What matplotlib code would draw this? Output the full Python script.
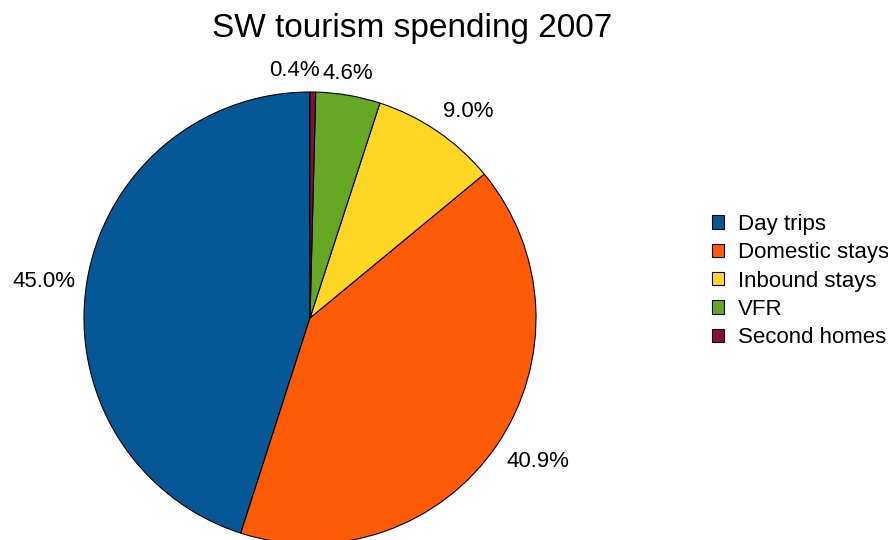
import numpy as np
import matplotlib
matplotlib.use('Agg')
import matplotlib.pyplot as plt

plt.rcParams['font.family'] = ['Liberation Sans', 'DejaVu Sans']

# spending shares
categories = ['Day trips', 'Domestic stays', 'Inbound stays', 'VFR', 'Second homes']
shares = [45.0, 40.9, 9.0, 4.6, 0.4]
colors = ['#065796', '#ff5a08', '#ffd624', '#66a823', '#84142c']

fig = plt.figure(figsize=(8.88, 5.40), dpi=100)
# axes in pixel units so the pie sits where it does in the original
ax = fig.add_axes([0, 0, 1, 1])

cx, cy, rad = 310, 222, 226
wedges, texts, autotexts = ax.pie(
    shares, colors=colors, startangle=90, counterclock=True,
    center=(cx, cy), radius=rad, frame=True,
    autopct='%.1f%%', pctdistance=1.05,
    wedgeprops=dict(edgecolor='black', linewidth=0.8),
    textprops=dict(fontsize=16))
ax.set_xlim(0, 888)
ax.set_ylim(0, 540)
ax.set_aspect('equal')
ax.axis('off')

# place labels just outside the rim, aligned by the side they sit on
for w, t in zip(wedges, autotexts):
    mid = np.deg2rad((w.theta1 + w.theta2) / 2)
    c, s = np.cos(mid), np.sin(mid)
    t.set_position((cx + rad * 1.05 * c, cy + rad * 1.05 * s))
    t.set_ha('center' if abs(c) < 0.2 else ('left' if c > 0 else 'right'))
    t.set_va('center' if abs(s) < 0.5 else ('bottom' if s > 0 else 'top'))

# the tiny slice label is pushed left so it clears the VFR label
x4, y4 = autotexts[4].get_position()
autotexts[4].set_ha('right')
autotexts[4].set_position((x4 + 7, y4))
x3, y3 = autotexts[3].get_position()
autotexts[3].set_position((x3 - 2, y3))

fig.text(412 / 888, 1 - 28 / 540, 'SW tourism spending 2007', fontsize=24,
         ha='center', va='center')

fig.legend(wedges, categories, loc='center left',
           bbox_to_anchor=(712 / 888, 1 - 281 / 540), frameon=False,
           fontsize=16, handlelength=0.55, handleheight=0.55,
           handletextpad=0.6, labelspacing=0.33, borderpad=0, borderaxespad=0)

fig.savefig('out.png', dpi=100)
